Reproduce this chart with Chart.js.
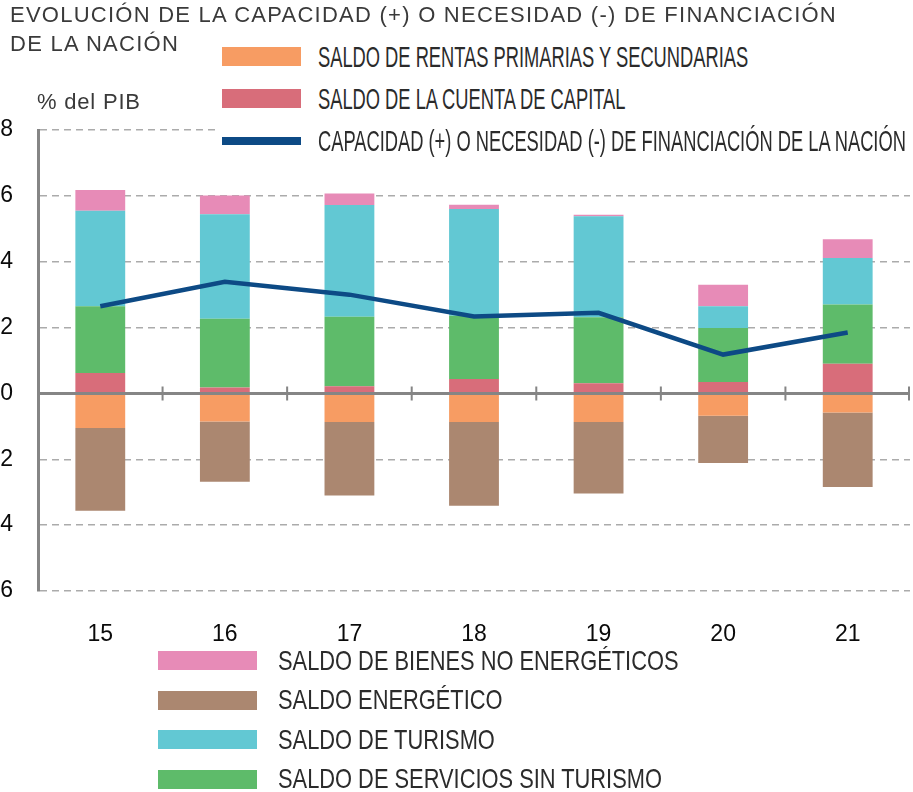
<!DOCTYPE html>
<html>
<head>
<meta charset="utf-8">
<script src="https://cdn.jsdelivr.net/npm/chart.js@4.4.1/dist/chart.umd.min.js"></script>
<style>
html, body { margin: 0; padding: 0; background: #fff; overflow: hidden; }
body { width: 913px; height: 792px; position: relative; font-family: "Liberation Sans", Arial, sans-serif; }
#wrap { position: absolute; left: -20px; top: 0; width: 933px; height: 792px; }
#title { position: absolute; left: 10px; top: 0; font-size: 22px; line-height: 29px; color: #3a3a3a; letter-spacing: 1.25px; white-space: nowrap; }
#unit { position: absolute; left: 37px; top: 89px; font-size: 22px; line-height: 26px; color: #3a3a3a; letter-spacing: 0.8px; }
#legendTop { position: absolute; left: 216px; top: 38px; width: 697px; height: 118px; background: #fff; }
#legendBottom { position: absolute; left: 158px; top: 651px; width: 600px; height: 140px; }
.row { position: absolute; left: 0; }
.sw { position: absolute; left: 0; }
.tx { position: absolute; white-space: nowrap; color: #2b2b2b; transform-origin: 0 50%; }
</style>
</head>
<body>
<div id="wrap"><canvas id="chart" width="933" height="792"></canvas></div>
<div id="title">EVOLUCIÓN DE LA CAPACIDAD (+) O NECESIDAD (-) DE FINANCIACIÓN<br>DE LA NACIÓN</div>
<div id="unit">% del PIB</div>
<div id="legendTop"></div>
<div id="legendBottom"></div>
<script>
// data (% del PIB)
const years = ['15', '16', '17', '18', '19', '20', '21'];
const capital = [0.62, 0.18, 0.22, 0.44, 0.31, 0.35, 0.90];
const serviciosSinTurismo = [2.03, 2.09, 2.11, 1.92, 2.00, 1.64, 1.80];
const turismo = [2.90, 3.17, 3.39, 3.24, 3.07, 0.66, 1.41];
const bienesNoEnergeticos = [0.63, 0.57, 0.35, 0.13, 0.05, 0.65, 0.57];
const rentas = [-1.05, -0.85, -0.87, -0.87, -0.87, -0.68, -0.58];
const energetico = [-2.51, -1.83, -2.23, -2.54, -2.17, -1.43, -2.26];
const capacidad = [2.65, 3.39, 3.00, 2.34, 2.45, 1.18, 1.85];
const yMin = -6, yMax = 8, yStep = 2;

const LBL_RENTAS = 'SALDO DE RENTAS PRIMARIAS Y SECUNDARIAS';
const LBL_CAPITAL = 'SALDO DE LA CUENTA DE CAPITAL';
const LBL_CAPACIDAD = 'CAPACIDAD (+) O NECESIDAD (-) DE FINANCIACIÓN DE LA NACIÓN';
const LBL_BIENES = 'SALDO DE BIENES NO ENERGÉTICOS';
const LBL_ENERGETICO = 'SALDO ENERGÉTICO';
const LBL_TURISMO = 'SALDO DE TURISMO';
const LBL_SERVICIOS = 'SALDO DE SERVICIOS SIN TURISMO';

const gray = '#858585';
const tickFont = { family: 'Liberation Sans', size: 23 };

// zero line drawn over the bars, with small ticks between the years
const zeroAxis = {
    id: 'zeroAxis',
    afterDatasetsDraw(chart) {
        const { ctx, chartArea, scales: { x, y } } = chart;
        const y0 = y.getPixelForValue(0);
        ctx.save();
        ctx.strokeStyle = gray;
        ctx.lineWidth = 3;
        ctx.beginPath();
        ctx.moveTo(chartArea.left, y0);
        ctx.lineTo(chartArea.right, y0);
        ctx.stroke();
        ctx.lineWidth = 2;
        const marks = [];
        for (let i = 0; i < years.length - 1; i++) {
            marks.push((x.getPixelForValue(i) + x.getPixelForValue(i + 1)) / 2);
        }
        marks.push(chartArea.right - 1);
        ctx.beginPath();
        marks.forEach(px => {
            ctx.moveTo(px, y0 - 7);
            ctx.lineTo(px, y0 + 7);
        });
        ctx.stroke();
        ctx.restore();
    }
};

function bar(label, data, color) {
    return { type: 'bar', label: label, data: data, backgroundColor: color, borderWidth: 0,
             barPercentage: 0.4, categoryPercentage: 1.0, stack: 'bars', order: 1 };
}

const ctx = document.getElementById('chart').getContext('2d');
const chart = new Chart(ctx, {
    data: {
        labels: years,
        datasets: [
            { type: 'line', label: LBL_CAPACIDAD, data: capacidad, borderColor: '#0d4a85', borderWidth: 4.5,
              pointRadius: 0, tension: 0, fill: false, stack: 'line', order: 0 },
            bar(LBL_CAPITAL, capital, '#d86d7a'),
            bar(LBL_SERVICIOS, serviciosSinTurismo, '#5ebb6a'),
            bar(LBL_TURISMO, turismo, '#62c8d3'),
            bar(LBL_BIENES, bienesNoEnergeticos, '#e78bb7'),
            bar(LBL_RENTAS, rentas, '#f79c63'),
            bar(LBL_ENERGETICO, energetico, '#ab8770')
        ]
    },
    options: {
        responsive: false,
        animation: false,
        devicePixelRatio: 1,
        layout: { padding: { top: 130, right: 3, bottom: 0, left: 0 } },
        plugins: { legend: { display: false }, tooltip: { enabled: false } },
        scales: {
            x: {
                stacked: true,
                grid: { display: false },
                border: { display: false },
                ticks: { color: '#0a0a0a', font: tickFont, padding: 22 },
                afterFit: s => { s.height = 201; }
            },
            y: {
                stacked: true,
                min: yMin,
                max: yMax,
                grid: { color: '#ababab', lineWidth: 1.5, drawTicks: false },
                border: { display: true, color: gray, width: 3, dash: [7, 5] },
                ticks: { stepSize: yStep, color: '#0a0a0a', font: tickFont, padding: 25 },
                afterFit: s => { s.width = 58; }
            }
        }
    },
    plugins: [zeroAxis]
});

// html legends built from the chart's own datasets
function buildLegend(el, labels, o) {
    labels.forEach((label, i) => {
        const ds = chart.data.datasets.find(d => d.label === label);
        const isLine = ds.type === 'line';
        const row = document.createElement('div');
        row.className = 'row';
        row.style.left = o.left + 'px';
        row.style.top = (o.top + i * o.gap) + 'px';
        const sw = document.createElement('div');
        sw.className = 'sw';
        const h = isLine ? 8 : o.swH;
        sw.style.width = o.swW + 'px';
        sw.style.height = h + 'px';
        sw.style.top = ((o.swH - h) / 2) + 'px';
        sw.style.background = isLine ? ds.borderColor : ds.backgroundColor;
        const tx = document.createElement('span');
        tx.className = 'tx';
        tx.textContent = label;
        tx.style.left = o.textLeft + 'px';
        tx.style.fontSize = o.font + 'px';
        tx.style.lineHeight = o.font + 'px';
        tx.style.top = (o.swH / 2 - o.font / 2) + 'px';
        tx.style.transform = 'scaleX(' + o.squeeze + ')';
        row.appendChild(sw);
        row.appendChild(tx);
        el.appendChild(row);
    });
}

buildLegend(document.getElementById('legendTop'), [LBL_RENTAS, LBL_CAPITAL, LBL_CAPACIDAD],
    { left: 6, top: 9, gap: 42, swW: 79, swH: 19, textLeft: 96, font: 30, squeeze: 0.61 });
buildLegend(document.getElementById('legendBottom'), [LBL_BIENES, LBL_ENERGETICO, LBL_TURISMO, LBL_SERVICIOS],
    { left: 0, top: 0, gap: 39.5, swW: 99, swH: 19, textLeft: 120, font: 28, squeeze: 0.78 });
</script>
</body>
</html>
